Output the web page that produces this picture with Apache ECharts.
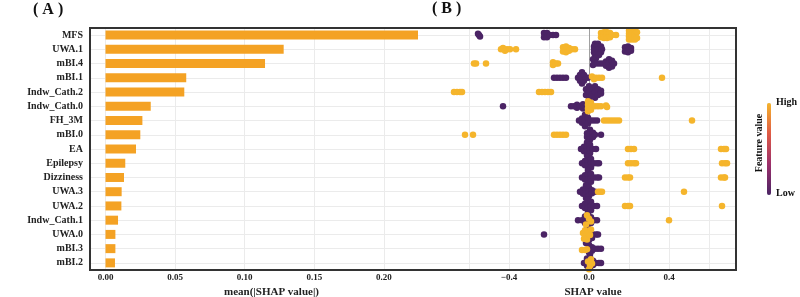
<!DOCTYPE html>
<html>
<head>
<meta charset="utf-8">
<script src="https://cdn.jsdelivr.net/npm/echarts@6/dist/echarts.min.js"></script>
<style>
  html, body { margin: 0; padding: 0; background: #fff; }
  #chart { width: 800px; height: 297px; }
</style>
</head>
<body>
<div id="chart"></div>
<script>
const features = ['MFS', 'UWA.1', 'mBI.4', 'mBI.1', 'Indw_Cath.2', 'Indw_Cath.0', 'FH_3M', 'mBI.0', 'EA',
  'Epilepsy', 'Dizziness', 'UWA.3', 'UWA.2', 'Indw_Cath.1', 'UWA.0', 'mBI.3', 'mBI.2']
const meanAbsShap = [0.2245, 0.128, 0.1146, 0.058, 0.0566, 0.0325, 0.0265, 0.025, 0.0219,
  0.0142, 0.0133, 0.0116, 0.0114, 0.009, 0.0071, 0.0071, 0.0068]
const barTicks = [0, 0.05, 0.1, 0.15, 0.2]
const shapTicks = [-0.6, -0.4, -0.2, 0, 0.2, 0.4, 0.6]
const shapLabels = [-0.4, 0, 0.4]

// beeswarm points per feature, [shap value, jitter in rows]
const lowPoints = [
  [[-0.555, -0.1], [-0.545, 0.1], [-0.55, 0], [-0.225, -0.15], [-0.225, 0.15], [-0.21, -0.15], [-0.21, 0.15], [-0.195, 0], [-0.18, 0], [-0.165, 0]],
  [[0.03, -0.4], [0.045, -0.4], [0.025, -0.2], [0.04, -0.2], [0.06, -0.2], [0.025, 0], [0.045, 0], [0.065, 0], [0.025, 0.2], [0.045, 0.2], [0.06, 0.2], [0.03, 0.4], [0.05, 0.4], [0.035, 0.6],
    [0.18, -0.15], [0.195, -0.2], [0.21, -0.1], [0.18, 0.15], [0.195, 0.2], [0.21, 0.1], [0.2, 0]],
  [[0.02, -0.3], [0.03, -0.1], [0.02, 0.1], [0.04, 0], [0.055, 0], [0.07, 0], [0.085, -0.15], [0.085, 0.15], [0.1, -0.3], [0.1, 0], [0.1, 0.3], [0.115, -0.2], [0.115, 0.2], [0.125, 0]],
  [[-0.175, 0], [-0.16, 0], [-0.145, 0], [-0.13, 0], [-0.115, 0], [-0.055, 0], [-0.045, -0.2], [-0.045, 0.2], [-0.035, -0.4], [-0.035, 0], [-0.035, 0.4], [-0.025, -0.2], [-0.025, 0.2], [-0.015, 0], [-0.005, 0]],
  [[-0.015, -0.2], [-0.015, 0.2], [0, -0.4], [0, 0], [0, 0.4], [0.015, -0.2], [0.015, 0.2], [0.03, -0.4], [0.03, 0], [0.03, 0.4], [0.045, -0.2], [0.045, 0.2], [0.06, -0.1], [0.06, 0.1]],
  [[-0.43, 0], [-0.09, 0], [-0.075, 0], [-0.06, -0.1], [-0.06, 0.1], [-0.045, 0], [-0.03, -0.15], [-0.03, 0.15]],
  [[-0.05, 0], [-0.035, -0.15], [-0.035, 0.15], [-0.02, -0.4], [-0.02, 0], [-0.02, 0.4], [-0.005, -0.2], [-0.005, 0.2], [0.01, 0], [0.025, 0], [0.04, 0]],
  [[-0.01, -0.1], [-0.01, 0.15], [0.005, -0.35], [0.005, 0], [0.005, 0.35], [0.02, -0.15], [0.02, 0.15], [0.03, 0], [0.06, 0]],
  [[-0.04, 0], [-0.025, -0.15], [-0.025, 0.15], [-0.01, -0.45], [-0.01, -0.15], [-0.01, 0.15], [-0.01, 0.45], [0.005, -0.3], [0.005, 0], [0.005, 0.3], [0.02, 0], [0.035, 0]],
  [[-0.035, 0], [-0.02, -0.15], [-0.02, 0.15], [-0.005, -0.45], [-0.005, -0.15], [-0.005, 0.15], [-0.005, 0.45], [0.01, -0.3], [0.01, 0], [0.01, 0.3], [0.025, 0], [0.04, 0], [0.05, 0]],
  [[-0.035, 0], [-0.02, -0.15], [-0.02, 0.15], [-0.005, -0.45], [-0.005, -0.15], [-0.005, 0.15], [-0.005, 0.45], [0.01, -0.25], [0.01, 0.05], [0.01, 0.3], [0.025, 0], [0.04, 0], [0.05, 0]],
  [[-0.045, 0], [-0.03, -0.15], [-0.03, 0.15], [-0.015, -0.45], [-0.015, -0.15], [-0.015, 0.15], [-0.015, 0.45], [0, -0.3], [0, 0], [0, 0.3], [0.015, -0.1], [0.015, 0.1], [0.03, 0]],
  [[-0.035, 0], [-0.02, -0.15], [-0.02, 0.15], [-0.005, -0.45], [-0.005, -0.15], [-0.005, 0.15], [-0.005, 0.45], [0.01, -0.3], [0.01, 0], [0.01, 0.3], [0.025, 0], [0.04, 0]],
  [[-0.055, 0], [-0.035, 0], [-0.02, -0.25], [-0.02, 0.2], [-0.005, -0.4], [-0.005, 0], [-0.005, 0.35], [0.01, -0.2], [0.01, 0.2], [0.025, 0], [0.04, 0]],
  [[-0.225, 0], [-0.01, -0.4], [0.005, -0.3], [0.02, 0], [0.035, 0], [0.045, 0], [0, 0.4], [0.015, 0.25]],
  [[-0.015, -0.4], [0, -0.25], [0, 0], [0, 0.25], [0.015, -0.1], [0.015, 0.15], [0.03, 0], [0.045, 0], [0.06, 0], [0.005, 0.4]],
  [[-0.025, 0], [-0.01, -0.3], [-0.01, 0.2], [0.005, -0.4], [0.005, 0], [0.005, 0.35], [0.02, -0.15], [0.02, 0.15], [0.035, 0], [0.05, 0], [0.06, 0]]
]
const highPoints = [
  [[0.06, -0.15], [0.06, 0.15], [0.075, -0.2], [0.075, 0], [0.075, 0.2], [0.09, -0.2], [0.09, 0], [0.09, 0.2], [0.105, -0.15], [0.105, 0.15], [0.115, 0], [0.135, 0],
    [0.2, -0.3], [0.2, -0.1], [0.2, 0.1], [0.2, 0.3], [0.215, -0.3], [0.215, -0.1], [0.215, 0.1], [0.215, 0.3], [0.23, -0.3], [0.23, -0.1], [0.23, 0.1], [0.23, 0.3], [0.24, -0.2], [0.24, 0.2]],
  [[-0.44, 0], [-0.43, -0.1], [-0.42, 0.1], [-0.41, 0], [-0.395, 0], [-0.365, 0], [-0.13, -0.15], [-0.13, 0.15], [-0.115, -0.2], [-0.115, 0.2], [-0.1, -0.1], [-0.1, 0.1], [-0.085, 0], [-0.07, 0]],
  [[-0.575, 0], [-0.565, 0], [-0.515, 0], [-0.18, -0.1], [-0.18, 0.1], [-0.165, 0], [-0.155, 0]],
  [[0.015, -0.1], [0.025, 0.1], [0.035, 0], [0.05, 0], [0.065, 0], [0.365, 0]],
  [[-0.675, 0], [-0.66, 0], [-0.645, 0], [-0.635, 0], [-0.25, 0], [-0.235, 0], [-0.22, 0], [-0.205, 0], [-0.19, 0]],
  [[-0.005, -0.35], [-0.005, -0.1], [-0.005, 0.15], [-0.005, 0.35], [0.01, -0.25], [0.01, 0], [0.01, 0.25], [0.03, 0], [0.045, 0], [0.06, 0], [0.085, -0.05], [0.09, 0.05]],
  [[0.075, 0], [0.09, 0], [0.105, 0], [0.12, 0], [0.135, 0], [0.15, 0], [0.515, 0]],
  [[-0.62, 0], [-0.58, 0], [-0.175, 0], [-0.16, 0], [-0.145, 0], [-0.13, 0], [-0.115, 0]],
  [[0.195, 0], [0.21, 0], [0.225, 0], [0.66, 0], [0.675, 0], [0.685, 0]],
  [[0.195, 0], [0.21, 0], [0.225, 0], [0.235, 0], [0.665, 0], [0.68, 0], [0.69, 0]],
  [[0.18, 0], [0.195, 0], [0.205, 0], [0.66, 0], [0.675, 0], [0.68, 0]],
  [[0.045, 0], [0.055, 0], [0.065, 0], [0.475, 0]],
  [[0.18, 0], [0.195, 0], [0.205, 0], [0.665, 0]],
  [[-0.01, -0.35], [0, -0.1], [0.01, 0.1], [-0.015, 0.3], [0.4, 0]],
  [[-0.03, -0.1], [-0.02, -0.3], [-0.02, 0.15], [-0.01, 0.35], [-0.005, -0.2], [0.005, 0.05], [0.01, -0.35], [-0.025, 0.3]],
  [[-0.035, 0.1], [-0.02, 0.1], [-0.01, 0.05]],
  [[-0.005, -0.1], [0.005, 0.2], [0, 0.45], [0.01, -0.25], [0.015, 0.05]]
]

// frame of the whole figure, px
const frame = { left: 90, right: 736, top: 28, bottom: 270, split: 429 }
const font = 'Liberation Serif'
const gridColor = '#ebebeb'

const swarmData = []
lowPoints.forEach((pts, i) => pts.forEach(p => swarmData.push([p[0], i + p[1], 0])))
highPoints.forEach((pts, i) => pts.forEach(p => swarmData.push([p[0], i + p[1], 1])))

const rowIdx = features.map((f, i) => i)
const rowAxis = gridIndex => ({
  type: 'value', gridIndex, min: -0.5, max: features.length - 0.5, inverse: true,
  axisLine: { show: false }, axisLabel: { show: false },
  axisTick: { show: false, customValues: rowIdx },
  splitLine: { show: true, lineStyle: { color: gridColor, width: 1 } }
})

const chart = echarts.init(document.getElementById('chart'), null, { renderer: 'canvas' })

chart.setOption({
  animation: false,
  textStyle: { fontFamily: font },
  grid: [
    { left: frame.left, width: frame.split - frame.left, top: frame.top, height: frame.bottom - frame.top, outerBoundsMode: 'none' },
    { left: frame.split, width: frame.right - frame.split, top: frame.top, height: frame.bottom - frame.top, outerBoundsMode: 'none' }
  ],
  xAxis: [
    {
      type: 'value', gridIndex: 0, min: -0.01114, max: 0.2324,
      axisLine: { show: false, onZero: false },
      axisTick: { show: false, customValues: barTicks },
      axisLabel: {
        customValues: barTicks, margin: 3, fontSize: 9, fontWeight: 'bold', color: '#222', fontFamily: font,
        formatter: v => v.toFixed(2)
      },
      splitLine: { show: true, lineStyle: { color: gridColor } },
      name: 'mean(|SHAP value|)', nameLocation: 'middle', nameGap: 15,
      nameTextStyle: { fontSize: 11, fontWeight: 'bold', color: '#222', fontFamily: font, padding: [0, 0, 0, 24] }
    },
    {
      type: 'value', gridIndex: 1, min: -0.8, max: 0.735,
      axisLine: { show: false, onZero: false },
      axisTick: { show: false, customValues: shapTicks },
      axisLabel: {
        customValues: shapLabels, margin: 3, fontSize: 9, fontWeight: 'bold', color: '#222', fontFamily: font,
        formatter: v => (v < 0 ? '\u2212' : '') + Math.abs(v).toFixed(1)
      },
      splitLine: {
        show: true,
        lineStyle: { color: [gridColor, gridColor, gridColor, '#a0a0a0', gridColor, gridColor, gridColor] }
      },
      name: 'SHAP value', nameLocation: 'middle', nameGap: 15,
      nameTextStyle: { fontSize: 11, fontWeight: 'bold', color: '#222', fontFamily: font, padding: [0, 0, 0, 21] }
    }
  ],
  yAxis: [
    {
      type: 'category', gridIndex: 0, data: features, inverse: true,
      axisLine: { show: false }, axisTick: { show: false },
      axisLabel: { margin: 7, fontSize: 10, fontWeight: 'bold', color: '#222', fontFamily: font },
      splitLine: { show: false }
    },
    rowAxis(0),
    rowAxis(1)
  ],
  visualMap: {
    type: 'continuous', min: 0, max: 1, dimension: 2, seriesIndex: 1,
    calculable: false, padding: 0, left: 767, top: 103, itemWidth: 4, itemHeight: 92,
    inRange: { color: ['#4b2465', '#9c2f6b', '#df5a45', '#f5b52c'] }
  },
  series: [
    {
      type: 'bar', xAxisIndex: 0, yAxisIndex: 0, data: meanAbsShap, barWidth: 9,
      itemStyle: { color: '#f4a224' }, silent: true
    },
    {
      type: 'scatter', xAxisIndex: 1, yAxisIndex: 2, data: swarmData,
      symbolSize: 6.5, itemStyle: { opacity: 1 }, silent: true
    }
  ],
  graphic: [
    {
      type: 'rect', z: 100, silent: true,
      shape: { x: frame.left, y: frame.top, width: frame.right - frame.left, height: frame.bottom - frame.top },
      style: { fill: 'none', stroke: '#333', lineWidth: 2 }
    },
    { type: 'text', left: 33, top: 2, style: { text: '( A )', font: 'bold 16px "Liberation Serif"', fill: '#111' } },
    { type: 'text', left: 432, top: 1, style: { text: '( B )', font: 'bold 16px "Liberation Serif"', fill: '#111' } },
    { type: 'text', left: 776, top: 97, style: { text: 'High', font: 'bold 10px "Liberation Serif"', fill: '#111' } },
    { type: 'text', left: 776, top: 188, style: { text: 'Low', font: 'bold 10px "Liberation Serif"', fill: '#111' } },
    {
      type: 'text', x: 759, y: 143, rotation: Math.PI / 2,
      style: { text: 'Feature value', font: 'bold 10px "Liberation Serif"', fill: '#111', align: 'center', verticalAlign: 'middle' }
    }
  ]
})
</script>
</body>
</html>
